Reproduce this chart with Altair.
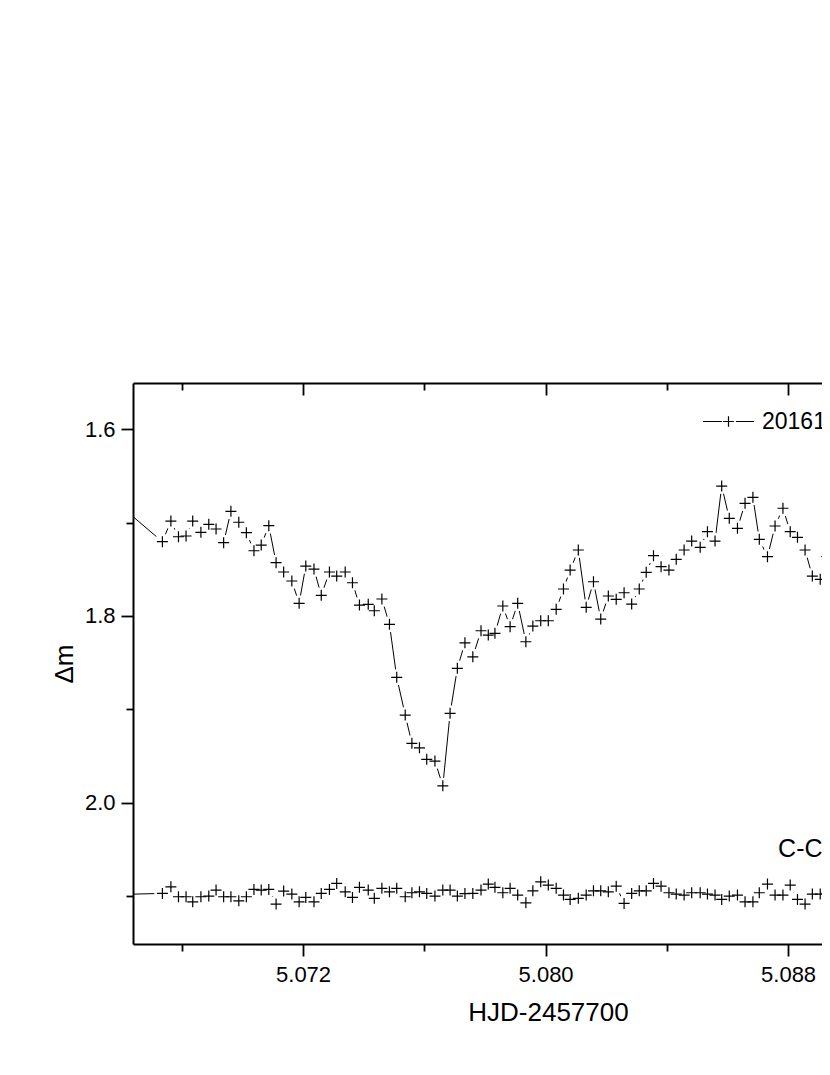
import altair as alt
import pandas as pd

# ---- data (HJD-2457700, delta magnitude) ----
hjd = [
    5.0655,
    5.06736, 5.06764, 5.06789, 5.06814, 5.06836, 5.06863, 5.06889, 5.06913, 5.06938, 5.06962,
    5.06988, 5.07013, 5.07038, 5.07062, 5.07087, 5.07111, 5.07136, 5.07163, 5.07187, 5.07209,
    5.07236, 5.07260, 5.07287, 5.07311, 5.07339, 5.07363, 5.07386, 5.07415, 5.07435, 5.07460,
    5.07485, 5.07509, 5.07537, 5.07559, 5.07584, 5.07608, 5.07635, 5.07661, 5.07685, 5.07709,
    5.07734, 5.07760, 5.07787, 5.07811, 5.07833, 5.07859, 5.07883, 5.07908, 5.07935, 5.07958,
    5.07984, 5.08009, 5.08035, 5.08059, 5.08081, 5.08108, 5.08134, 5.08158, 5.08182, 5.08207,
    5.08233, 5.08259, 5.08284, 5.08309, 5.08332, 5.08356, 5.08381, 5.08407, 5.08431, 5.08457,
    5.08482, 5.08510, 5.08534, 5.08559, 5.08581, 5.08606, 5.08633, 5.08658, 5.08684, 5.08705,
    5.08732, 5.08757, 5.08783, 5.08807, 5.08831, 5.08856, 5.08880, 5.08906, 5.08928,
    5.08953,
]

dm_var = [
    1.6690,
    1.7204, 1.6983, 1.7151, 1.7143, 1.6983, 1.7104, 1.7018, 1.7068, 1.7215, 1.6879,
    1.6996, 1.7108, 1.7301, 1.7240, 1.7033, 1.7429, 1.7529, 1.7625, 1.7864, 1.7465,
    1.7497, 1.7779, 1.7529, 1.7572, 1.7529, 1.7644, 1.7883, 1.7875, 1.7944, 1.7818,
    1.8089, 1.8657, 1.9061, 1.9364, 1.9412, 1.9536, 1.9554, 1.9819, 1.9043, 1.8561,
    1.8287, 1.8437, 1.8158, 1.8204, 1.8186, 1.7893, 1.8115, 1.7864, 1.8276, 1.8108,
    1.8051, 1.8051, 1.7929, 1.7711, 1.7508, 1.7293, 1.7907, 1.7633, 1.8033, 1.7786,
    1.7821, 1.7751, 1.7872, 1.7711, 1.7532, 1.7354, 1.7472, 1.7508, 1.7393, 1.7293,
    1.7197, 1.7264, 1.7097, 1.7197, 1.6608, 1.6954, 1.7061, 1.6793, 1.6729, 1.7179,
    1.7365, 1.7036, 1.6846, 1.7097, 1.7157, 1.7293, 1.7572, 1.7607, 1.7365,
    1.7120,
]

dm_check = [
    2.0987,
    2.0972, 2.0901, 2.1008, 2.1008, 2.1062, 2.1008, 2.1001, 2.0936, 2.1008, 2.1008,
    2.1051, 2.1008, 2.0929, 2.0936, 2.0929, 2.1086, 2.0947, 2.0979, 2.1062, 2.1015,
    2.1062, 2.0972, 2.0929, 2.0865, 2.0955, 2.1015, 2.0907, 2.0936, 2.1025, 2.0918,
    2.0955, 2.0918, 2.1008, 2.0965, 2.0955, 2.0972, 2.1001, 2.0936, 2.0936, 2.1001,
    2.0974, 2.0972, 2.0936, 2.0872, 2.0907, 2.0965, 2.0918, 2.0990, 2.1073, 2.0944,
    2.0848, 2.0883, 2.0918, 2.0990, 2.1036, 2.1025, 2.0990, 2.0944, 2.0944, 2.0955,
    2.0894, 2.1079, 2.0972, 2.0944, 2.0944, 2.0865, 2.0894, 2.0965, 2.0979, 2.0990,
    2.0965, 2.0965, 2.0979, 2.0990, 2.1036, 2.1001, 2.0990, 2.1062, 2.1062, 2.0965,
    2.0872, 2.0990, 2.0990, 2.0883, 2.1036, 2.1086, 2.0979, 2.0979, 2.0972,
    2.0980,
]

var_label = "20161112"
check_label = "C-CH"
x_title = "HJD-2457700"
y_title = "Δm"

x_major = [5.072, 5.080, 5.088]
x_minor = [5.068, 5.076, 5.084, 5.092]
y_major = [1.6, 1.8, 2.0]
y_minor = [1.7, 1.9, 2.1]
x_domain = [5.06639, 5.09377]
y_domain = [1.5504, 2.1514]

FULL_W = 830      # full width of the original plot frame (runs past the page edge)
VIS_W = 689       # part of the frame that fits in the page
H = 561
FONT = "Liberation Sans"

var_df = pd.DataFrame({"hjd": hjd, "dm": dm_var, "series": var_label})
chk_df = pd.DataFrame({"hjd": hjd, "dm": dm_check, "series": check_label})
all_df = pd.concat([var_df, chk_df], ignore_index=True)

xs = alt.Scale(domain=x_domain, nice=False, zero=False, range=[0, FULL_W])
ys = alt.Scale(domain=y_domain, nice=False, zero=False, reverse=True)

tick_style = dict(tickColor="black", tickWidth=1.8, grid=False)
frame = dict(domain=True, domainColor="black", domainWidth=2)

line_var = alt.Chart(var_df).mark_line(clip=True, strokeWidth=1).encode(
    x=alt.X("hjd:Q", scale=xs, axis=alt.Axis(
        orient="bottom", values=x_major, format=".3f", tickSize=12,
        labelPadding=8, labelFont=FONT, labelFontSize=22, labelColor="black",
        title=x_title, titlePadding=14, titleFont=FONT, titleFontSize=26,
        titleFontWeight="normal", titleColor="black", **tick_style, **frame)),
    y=alt.Y("dm:Q", scale=ys, axis=alt.Axis(
        orient="left", values=y_major, format=".1f", tickSize=12,
        labelPadding=6, labelFont=FONT, labelFontSize=22, labelColor="black",
        title=y_title, titlePadding=7, titleFont=FONT, titleFontSize=26,
        titleFontWeight="normal", titleColor="black", **tick_style, **frame)),
    color=alt.Color("series:N", scale=alt.Scale(range=["black"]), legend=alt.Legend(
        title=None, orient="none", legendX=569, legendY=12, padding=0,
        symbolType="M-1,0H-0.25M0.29,0H1M-0.21,0H0.21M0,-0.21V0.21",
        symbolSize=2601, symbolStrokeWidth=1.2, symbolStrokeColor="black",
        symbolFillColor="transparent", labelOffset=7, labelFont=FONT,
        labelFontSize=23, labelColor="black", labelLimit=400)),
)

line_chk = alt.Chart(chk_df).mark_line(clip=True, strokeWidth=1, color="black").encode(
    x=alt.X("hjd:Q", scale=xs, axis=alt.Axis(
        orient="bottom", values=x_minor, tickSize=7, labels=False, title=None,
        domain=False, **tick_style)),
    y=alt.Y("dm:Q", scale=ys, axis=alt.Axis(
        orient="left", values=y_minor, tickSize=7, labels=False, title=None,
        domain=False, **tick_style)),
)

mask = alt.Chart(all_df).mark_point(
    clip=True, shape="circle", size=256, filled=True, color="white", opacity=1
).encode(
    x=alt.X("hjd:Q", scale=xs, axis=alt.Axis(
        orient="bottom", offset=-H, values=x_major, tickSize=12, labels=False,
        title=None, **tick_style, **frame)),
    y=alt.Y("dm:Q", scale=ys, axis=None),
)

plus = alt.Chart(all_df).mark_point(
    clip=True, shape="M-1,0H1M0,-1V1", size=121, filled=False,
    stroke="black", strokeWidth=1.2, opacity=1
).encode(
    x=alt.X("hjd:Q", scale=xs, axis=alt.Axis(
        orient="bottom", offset=-H, values=x_minor, tickSize=7, labels=False,
        title=None, domain=False, **tick_style)),
    y=alt.Y("dm:Q", scale=ys, axis=None),
)

label = alt.Chart(pd.DataFrame({"t": [check_label]})).mark_text(
    align="left", baseline="alphabetic", font=FONT, fontSize=25, color="black"
).encode(
    x=alt.X(datum=5.08767, scale=xs, axis=None),
    y=alt.Y(datum=2.0583, scale=ys, axis=None),
    text="t:N",
)

chart = alt.layer(line_var, line_chk, mask, plus, label).resolve_axis(
    x="independent", y="independent"
).properties(
    width=VIS_W, height=H,
    padding={"left": 125, "top": 375, "right": 0, "bottom": 100},
    autosize=alt.AutoSizeParams(type="none"),
).configure_view(stroke="transparent")

chart.save("out.html", embed_options={"renderer": "svg", "actions": False})
